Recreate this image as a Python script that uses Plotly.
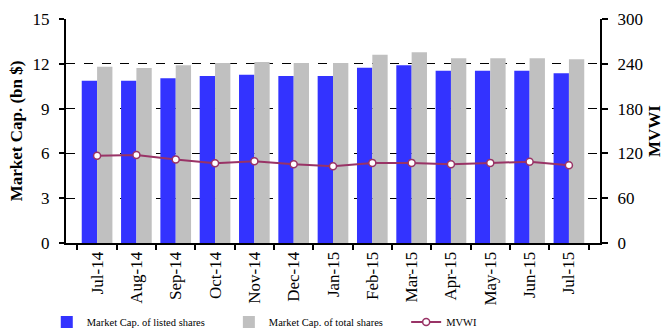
import plotly.graph_objects as go

months = ["Jul-14", "Aug-14", "Sep-14", "Oct-14", "Nov-14", "Dec-14", "Jan-15",
          "Feb-15", "Mar-15", "Apr-15", "May-15", "Jun-15", "Jul-15"]
listed_cap = [10.87, 10.87, 11.03, 11.19, 11.27, 11.19, 11.19,
              11.73, 11.91, 11.53, 11.53, 11.53, 11.37]
total_cap = [11.81, 11.72, 11.90, 12.06, 12.12, 12.06, 12.06,
             12.60, 12.78, 12.38, 12.38, 12.38, 12.31]
mvwi = [116.7, 118.0, 111.7, 106.8, 109.5, 105.5, 102.8,
        107.3, 107.3, 105.5, 107.3, 108.7, 104.1]

FONT = "Liberation Serif, Times New Roman, serif"

fig = go.Figure()
fig.add_trace(go.Bar(x=months, y=listed_cap, name="Market Cap. of listed shares",
                     legend="legend",
                     marker=dict(color="#3333FF", line=dict(width=0))))
fig.add_trace(go.Bar(x=months, y=total_cap, name="Market Cap. of total shares",
                     legend="legend2",
                     marker=dict(color="#C0C0C0", line=dict(width=0))))
fig.add_trace(go.Scatter(x=months, y=mvwi, name="MVWI", yaxis="y2", legend="legend3",
                         mode="lines+markers",
                         line=dict(color="#993366", width=2),
                         marker=dict(symbol="circle", size=7, color="white",
                                     line=dict(color="#993366", width=1.5))))

leg_common = dict(orientation="h", xanchor="left", y=-0.353, yanchor="middle",
                  font=dict(size=10.5, family=FONT), itemwidth=30,
                  bgcolor="rgba(0,0,0,0)")

fig.update_layout(
    width=664, height=329,
    margin=dict(l=66, r=64, t=19, b=86, autoexpand=False),
    paper_bgcolor="white", plot_bgcolor="white",
    font=dict(family=FONT, color="black", size=17),
    barmode="group", bargap=0.22, bargroupgap=0,
    showlegend=True,
    legend=dict(x=-0.036, **leg_common),
    legend2=dict(x=0.305, **leg_common),
    legend3=dict(x=0.637, **leg_common),
    xaxis=dict(type="category", showline=True, linecolor="black", linewidth=2,
               ticks="outside", tickson="boundaries", ticklen=5, tickcolor="black",
               tickwidth=1.5, tickangle=-90, tickfont=dict(size=17),
               showgrid=False, automargin=False),
    yaxis=dict(range=[0, 15], dtick=3, showline=True, linecolor="black", linewidth=2,
               ticks="outside", ticklen=5, tickcolor="black", tickwidth=1.5,
               ticklabelstandoff=6,
               showgrid=True, gridcolor="black", gridwidth=1, griddash="dash",
               zeroline=False, tickfont=dict(size=17), automargin=False,
               title=dict(text="<b>Market Cap. (bn $)</b>", font=dict(size=17), standoff=6)),
    yaxis2=dict(range=[0, 300], dtick=60, overlaying="y", side="right",
                showline=True, linecolor="black", linewidth=2,
                ticks="outside", ticklen=6, tickcolor="black", tickwidth=1.5,
                ticklabelstandoff=6,
                showgrid=False, zeroline=False, tickfont=dict(size=17), automargin=False,
                title=dict(text="<b>MVWI</b>", font=dict(size=17), standoff=10)),
)

fig.write_html("out.html")
